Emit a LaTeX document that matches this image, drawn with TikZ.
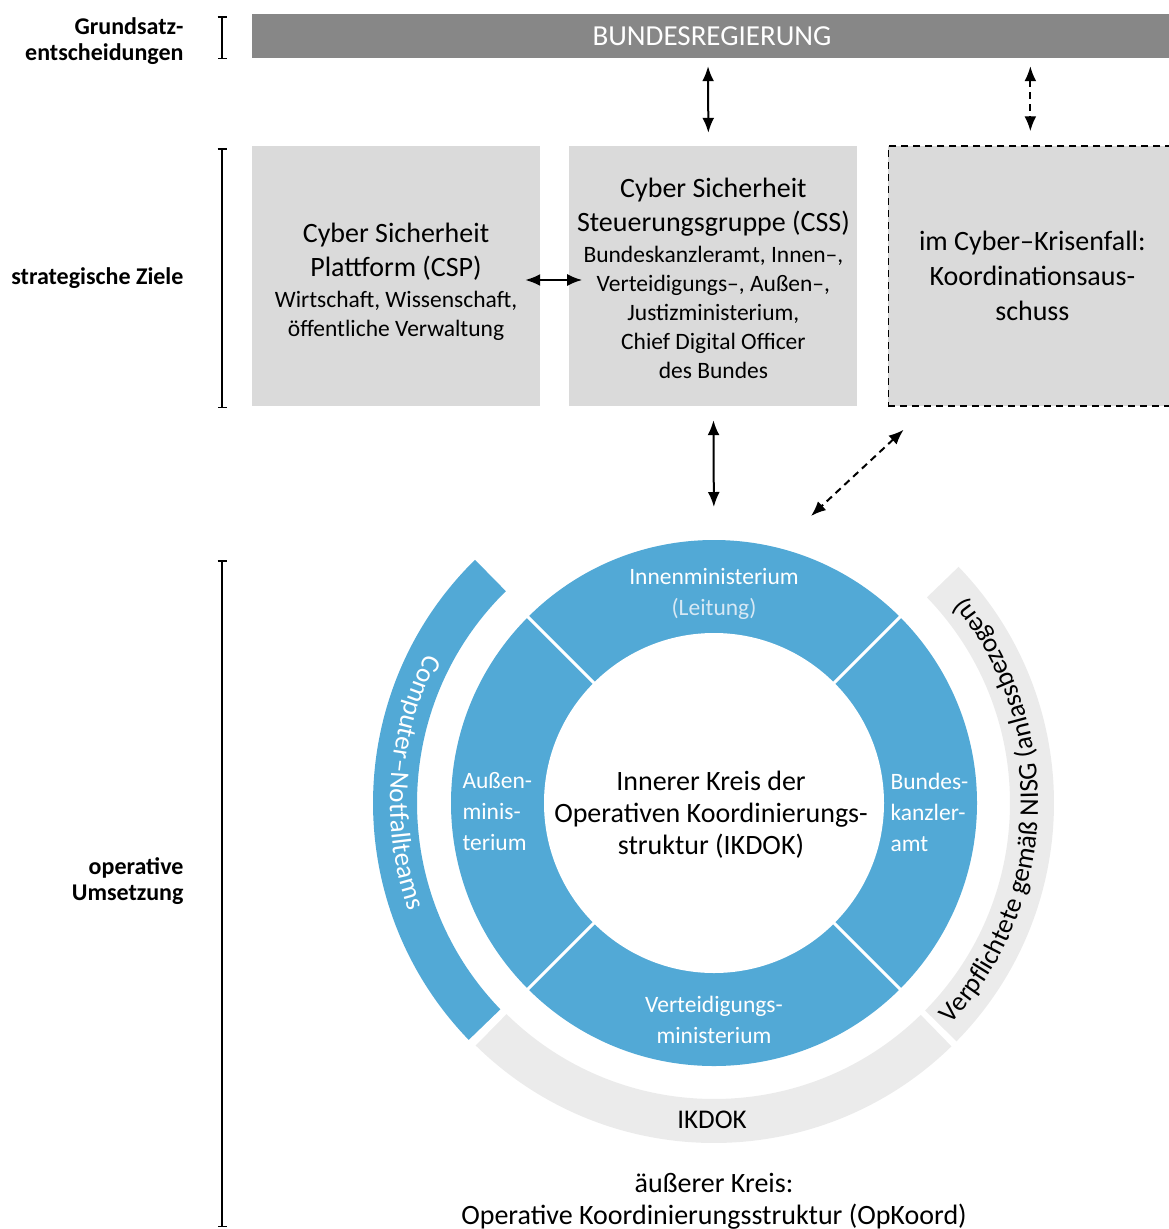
\documentclass[tikz,border=0pt]{standalone}
\usepackage{fontspec}
\setmainfont{Carlito}
\usepackage{tikz}
\usetikzlibrary{arrows.meta,%
                positioning,decorations.text}
\definecolor{ringblue}{RGB}{82,169,214}
\definecolor{ringgray}{RGB}{235,235,235}
\definecolor{boxgray}{RGB}{218,218,218}
\definecolor{bargray}{RGB}{135,135,135}
\definecolor{softwhite}{RGB}{215,232,244}
\newcommand\subtxt{\fontsize{23.5}{29}\selectfont}
\newcommand\arcfont{\fontsize{27}{32}\selectfont}

\begin{document}
\begin{tikzpicture}[x=1pt,y=1pt]
\tikzset{BoxStyle/.style = {shape          = rectangle,
                            fill           = boxgray,
                            inner sep      = 0pt,
                            minimum width  = 288pt,
                            minimum height = 260pt,
                            align          = center,
                            font           = \fontsize{28}{34}\selectfont},
         LevelStyle/.style = {anchor=east, align=right,
                              font=\bfseries\fontsize{24}{26}\selectfont},
         RingText/.style = {text=white, align=center,
                            font=\fontsize{23.5}{31}\selectfont},
         BigText/.style = {align=center, font=\fontsize{28}{32}\selectfont},
         DArrow/.style = {line width=2pt,
                          {Latex[length=15pt,width=12pt]}-{Latex[length=15pt,width=12pt]}},
         DashStyle/.style = {dash pattern=on 7pt off 5pt},
         BracketStyle/.style = {line width=1.5pt, {Bar[width=9pt]}-{Bar[width=9pt]}}}
\useasboundingbox (0,0) rectangle (1169,-1229);

% levels on the left
\node[LevelStyle] (L1) at (187,-41) {Grundsatz-\\entscheidungen};
\node[LevelStyle] (L2) at (187,-278) {strategische Ziele};
\node[LevelStyle] (L3) at (187,-881) {operative\\Umsetzung};
\draw[BracketStyle] (222,-16) -- (222,-59);
\draw[BracketStyle] (222,-148) -- (222,-408);
\draw[BracketStyle] (222,-560) -- (222,-1227);

% top bar and boxes
\node[fill=bargray, minimum width=920pt, minimum height=44pt, text=white,
      font=\fontsize{29}{32}\selectfont] (BR) at (712,-36) {\raisebox{-2pt}{BUNDESREGIERUNG}};
\node[BoxStyle] (CSP) at (396,-276) {\rule{0pt}{31pt}Cyber Sicherheit\\Plattform (CSP)\\[-3pt]
      \subtxt Wirtschaft, Wissenschaft,\\[-5pt]\subtxt öffentliche Verwaltung};
\node[BoxStyle,right=29pt of CSP] (CSS) {\rule{0pt}{25pt}Cyber Sicherheit\\Steuerungsgruppe (CSS)\\[-3pt]
      \subtxt Bundeskanzleramt, Innen–,\\[-5pt]\subtxt Verteidigungs–, Außen–,\\[-5pt]
      \subtxt Justizministerium,\\[-5pt]\subtxt Chief Digital Officer\\[-5pt]\subtxt des Bundes};
\node[BoxStyle,draw,line width=1.5pt,DashStyle,right=30pt of CSS] (KA)
      {im Cyber–Krisenfall:\\[1pt]Koordinationsaus-\\[1pt]schuss};

\coordinate (KAtop) at ([xshift=-2pt]KA.north);
\coordinate (Ctr) at (714,-803);
\coordinate (RingTop) at (714,-540);
\coordinate (DiagEnd) at (811,-516);

\draw[DArrow,shorten <=8pt,shorten >=13pt] ([xshift=-4pt]BR.south) -- ([xshift=-5pt]CSS.north);
\draw[DArrow,DashStyle,shorten <=8pt,shorten >=14pt] (KAtop |- BR.south) -- (KAtop);
\draw[DArrow,shorten <=-15pt,shorten >=-13pt] ([yshift=-4pt]CSP.east) -- ([yshift=-4pt]CSS.west);
\draw[DArrow,shorten <=14pt,shorten >=33pt] (CSS.south) -- (RingTop);
\draw[DArrow,DashStyle] ([shift={(16pt,-23pt)}]KA.south west) -- (DiagEnd);

% the rings
\fill[ringblue] (Ctr) circle[radius=263];
\fill[white] (Ctr) circle[radius=170];
\foreach \a in {45,135,225,315}
  \draw[white,line width=3pt] ([shift={(\a:168)}]Ctr) -- ([shift={(\a:266)}]Ctr);
\fill[ringblue] ([shift={(134.5:297)}]Ctr) arc[start angle=134.5, end angle=224, radius=297]
  -- ([shift={(224:341)}]Ctr) arc[start angle=224, end angle=134.5, radius=341] -- cycle;
\fill[ringgray] ([shift={(225.5:296)}]Ctr) arc[start angle=225.5, end angle=314.3, radius=296]
  -- ([shift={(314.3:340)}]Ctr) arc[start angle=314.3, end angle=225.5, radius=340] -- cycle;
\fill[ringgray] ([shift={(315.5:296)}]Ctr) arc[start angle=315.5, end angle=404, radius=296]
  -- ([shift={(404:340)}]Ctr) arc[start angle=404, end angle=315.5, radius=340] -- cycle;

\path[decorate,decoration={text along path, text align=center, text color=white,
      text={|\arcfont|Computer–Notfallteams}}]
  ([shift={(140:324)}]Ctr) arc[start angle=140, end angle=212, radius=324];
\path[decorate,decoration={text along path, text align=center,
      text={|\arcfont|Verpflichtete gemäß NISG  (anlassbezogen)}}]
  ([shift={(-60:324)}]Ctr) arc[start angle=-60, end angle=56.3, radius=324];

% texts in the rings
\node[RingText] (IM) at (714,-594) {Innenministerium\\\textcolor{softwhite}{(Leitung)}};
\node[RingText,align=left,anchor=west] (AM) at (459,-812) {Außen-\\minis-\\terium};
\node[RingText,align=left,anchor=west] (BK) at (887,-812) {Bundes-\\kanzler-\\amt};
\node[RingText] (VM) at (714,-1020) {Verteidigungs-\\ministerium};
\node[BigText] (IK) at (711,-815) {Innerer Kreis der\\Operativen Koordinierungs-\\struktur (IKDOK)};
\node[font=\fontsize{27}{32}\selectfont] (IKDOK) at (712,-1120) {IKDOK};
\node[BigText] (OK) at (714,-1201) {äußerer Kreis:\\Operative Koordinierungsstruktur (OpKoord)};

\end{tikzpicture}
\end{document}
